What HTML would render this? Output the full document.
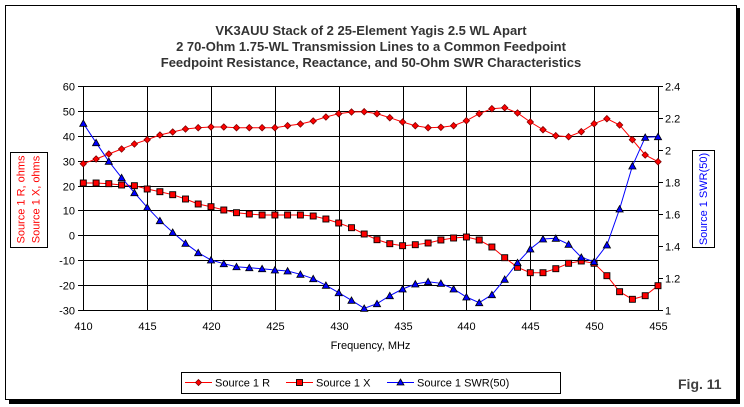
<!DOCTYPE html>
<html>
<head>
<meta charset="utf-8">
<style>
html,body{margin:0;padding:0;background:#fff;}
svg{display:block;}
text{font-family:"Liberation Sans",Arial,sans-serif;}
</style>
</head>
<body>
<svg width="744" height="407" viewBox="0 0 744 407" xmlns="http://www.w3.org/2000/svg">
<defs>
<marker id="md" markerUnits="userSpaceOnUse" markerWidth="10" markerHeight="10" refX="5" refY="5" overflow="visible">
<path d="M5,1.8 L8.2,5 L5,8.2 L1.8,5 Z" fill="#ff0000" stroke="#800000" stroke-width="0.8"/>
</marker>
<marker id="ms" markerUnits="userSpaceOnUse" markerWidth="10" markerHeight="10" refX="5" refY="5" overflow="visible">
<rect x="2" y="2" width="6" height="6" fill="#ff0000" stroke="#000" stroke-width="0.9"/>
</marker>
<marker id="mt" markerUnits="userSpaceOnUse" markerWidth="10" markerHeight="10" refX="5" refY="5" overflow="visible">
<path d="M5,1.6 L8.6,8 L1.4,8 Z" fill="#0000ff" stroke="#000" stroke-width="0.8"/>
</marker>
</defs>

<!-- frame shadow + border -->
<rect x="9" y="8" width="731" height="396" fill="#000"/>
<rect x="5.5" y="5.5" width="731" height="394" fill="#fff" stroke="#000" stroke-width="1"/>

<!-- title -->
<g font-weight="bold" font-size="13" fill="#333" text-anchor="middle">
<text x="371" y="35">VK3AUU Stack of 2 25-Element Yagis 2.5 WL Apart</text>
<text x="371" y="51">2 70-Ohm 1.75-WL Transmission Lines to a Common Feedpoint</text>
<text x="371" y="67">Feedpoint Resistance, Reactance, and 50-Ohm SWR Characteristics</text>
</g>

<!-- grid -->
<g stroke="#000" stroke-width="1" fill="none">
<path d="M83,86.5H658.5 M83,111.5H658 M83,136.5H658 M83,161.5H658 M83,186.5H658 M83,210.5H658 M83,235.5H658 M83,260.5H658 M83,285.5H658 M83,310.5H658.5"/>
<path d="M83.5,86V311 M147.5,86V311 M211.5,86V311 M275.5,86V311 M339.5,86V311 M403.5,86V311 M466.5,86V311 M530.5,86V311 M594.5,86V311 M658.5,86V311"/>
<path d="M78,86.5H83 M78,111.5H83 M78,136.5H83 M78,161.5H83 M78,186.5H83 M78,210.5H83 M78,235.5H83 M78,260.5H83 M78,285.5H83 M78,310.5H83"/>
<path d="M658,86.5H663 M658,118.5H663 M658,150.5H663 M658,182.5H663 M658,214.5H663 M658,246.5H663 M658,278.5H663 M658,310.5H663"/>
</g>

<!-- left tick labels -->
<g font-size="11" fill="#000" text-anchor="end">
<text x="75" y="90.5">60</text>
<text x="75" y="115.5">50</text>
<text x="75" y="140.5">40</text>
<text x="75" y="165.5">30</text>
<text x="75" y="190.5">20</text>
<text x="75" y="214.5">10</text>
<text x="75" y="239.5">0</text>
<text x="75" y="264.5">-10</text>
<text x="75" y="289.5">-20</text>
<text x="75" y="314.5">-30</text>
</g>
<!-- right tick labels -->
<g font-size="11" fill="#000" text-anchor="start">
<text x="665" y="90.5">2.4</text>
<text x="665" y="122.5">2.2</text>
<text x="665" y="154.5">2</text>
<text x="665" y="186.5">1.8</text>
<text x="665" y="218.5">1.6</text>
<text x="665" y="250.5">1.4</text>
<text x="665" y="282.5">1.2</text>
<text x="665" y="314.5">1</text>
</g>
<!-- x tick labels -->
<g font-size="11" fill="#000" text-anchor="middle">
<text x="83.5" y="330">410</text>
<text x="147.5" y="330">415</text>
<text x="211.5" y="330">420</text>
<text x="275.5" y="330">425</text>
<text x="339.5" y="330">430</text>
<text x="403.5" y="330">435</text>
<text x="466.5" y="330">440</text>
<text x="530.5" y="330">445</text>
<text x="594.5" y="330">450</text>
<text x="658.5" y="330">455</text>
<text x="370.5" y="349">Frequency, MHz</text>
</g>

<!-- axis title boxes -->
<rect x="10.5" y="152.5" width="37" height="95" fill="#fff" stroke="#000" stroke-width="1"/>
<g font-size="11" fill="#ff0000" text-anchor="middle">
<text transform="translate(24.5,199.5) rotate(-90)">Source 1 R, ohms</text>
<text transform="translate(39.5,199.5) rotate(-90)">Source 1 X, ohms</text>
</g>
<rect x="692.5" y="150.5" width="22" height="97" fill="#fff" stroke="#000" stroke-width="1"/>
<text transform="translate(707,199) rotate(-90)" font-size="11" fill="#0000ff" text-anchor="middle">Source 1 SWR(50)</text>

<!-- series -->
<polyline fill="none" stroke="#ff0000" stroke-width="1" marker-start="url(#md)" marker-mid="url(#md)" marker-end="url(#md)"
points="83.3,163.7 96.1,159 108.8,154 121.6,149 134.4,144 147.2,139.7 159.9,135 172.7,132 185.5,129 198.2,127.7 211,127 223.8,127 236.5,127.7 249.3,127.7 262.1,127.7 274.9,127.7 287.6,125.7 300.4,124 313.2,121 325.9,117 338.7,113.7 351.5,112 364.2,111.7 377,113.7 389.8,117.7 402.6,122 415.3,125.7 428.1,127.7 440.9,127.3 453.6,125.7 466.4,120.7 479.2,113.7 491.9,108.7 504.7,107.7 517.5,113 530.3,122 543,129.7 555.8,135.7 568.6,136.7 581.3,131.7 594.1,123.7 606.9,118.7 619.6,125 632.4,139.7 645.2,155 658,161.7"/>
<polyline fill="none" stroke="#ff0000" stroke-width="1" marker-start="url(#ms)" marker-mid="url(#ms)" marker-end="url(#ms)"
points="83.3,183 96.1,183 108.8,183.7 121.6,185 134.4,185.7 147.2,189 159.9,191.7 172.7,194.7 185.5,199 198.2,204 211,206.7 223.8,210 236.5,212.7 249.3,214 262.1,215 274.9,215 287.6,215 300.4,215 313.2,216 325.9,219 338.7,223 351.5,227.7 364.2,234 377,239.7 389.8,243.7 402.6,245.7 415.3,244.7 428.1,243 440.9,240 453.6,238 466.4,237 479.2,240 491.9,247 504.7,257.7 517.5,267.3 530.3,272.7 543,272.7 555.8,268.7 568.6,263.3 581.3,261 594.1,263.3 606.9,275.7 619.6,291.7 632.4,299.3 645.2,295.7 658,285.7"/>
<polyline fill="none" stroke="#0000ff" stroke-width="1" marker-start="url(#mt)" marker-mid="url(#mt)" marker-end="url(#mt)"
points="83.3,123.3 96.1,142.7 108.8,161.3 121.6,177.7 134.4,192.7 147.2,207.3 159.9,220.7 172.7,232.3 185.5,243.3 198.2,252.7 211,260 223.8,263.7 236.5,266.7 249.3,267.7 262.1,268.7 274.9,270 287.6,271 300.4,274.3 313.2,278.7 325.9,285.3 338.7,292.7 351.5,300.3 364.2,308.3 377,303.7 389.8,295.7 402.6,289 415.3,284 428.1,281.7 440.9,283.3 453.6,289 466.4,297 479.2,302.7 491.9,294.7 504.7,279.3 517.5,262.7 530.3,249 543,239 555.8,238.3 568.6,244.3 581.3,257.3 594.1,261.7 606.9,245 619.6,209 632.4,166 645.2,137.3 658,136.7"/>

<!-- legend -->
<rect x="181.5" y="372.5" width="379" height="21" fill="#fff" stroke="#000" stroke-width="1"/>
<g stroke-width="1">
<line x1="185" y1="382.5" x2="212" y2="382.5" stroke="#ff0000"/>
<path d="M198.5,379.5 L201.5,382.5 L198.5,385.5 L195.5,382.5 Z" fill="#ff0000" stroke="#800000" stroke-width="0.8"/>
<line x1="286" y1="382.5" x2="313" y2="382.5" stroke="#ff0000"/>
<rect x="296.5" y="379.5" width="6" height="6" fill="#ff0000" stroke="#000" stroke-width="0.9"/>
<line x1="387" y1="382.5" x2="414" y2="382.5" stroke="#0000ff"/>
<path d="M400.5,379 L404,385 L397,385 Z" fill="#0000ff" stroke="#000" stroke-width="0.8"/>
</g>
<g font-size="11" fill="#000">
<text x="215" y="386.5">Source 1 R</text>
<text x="316" y="386.5">Source 1 X</text>
<text x="417" y="386.5">Source 1 SWR(50)</text>
</g>

<text x="678" y="389" font-size="14" font-weight="bold" fill="#404040">Fig. 11</text>
</svg>
</body>
</html>
